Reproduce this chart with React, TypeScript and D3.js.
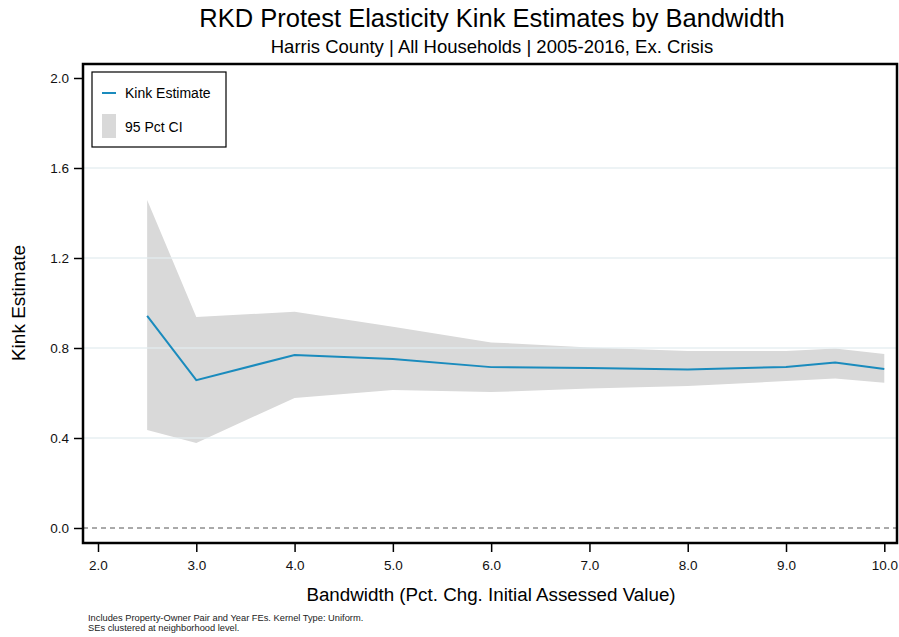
import React, { useEffect, useRef } from "react";
import * as d3 from "d3";

// bandwidths and the estimates
const bandwidths = [2.5, 3, 4, 5, 6, 7, 8, 9, 9.5, 10];
const kinkEstimate = [0.943, 0.657, 0.769, 0.751, 0.715, 0.711, 0.704, 0.716, 0.735, 0.707];
const ciUpper = [1.458, 0.938, 0.961, 0.895, 0.825, 0.802, 0.787, 0.787, 0.798, 0.773];
const ciLower = [0.436, 0.378, 0.578, 0.613, 0.604, 0.620, 0.631, 0.653, 0.664, 0.646];
const xTicks = [2, 3, 4, 5, 6, 7, 8, 9, 10];
const yTicks = [0, 0.4, 0.8, 1.2, 1.6, 2.0];
const gridTicks = [0.4, 0.8, 1.2, 1.6];

export default function App() {
  const ref = useRef<SVGSVGElement>(null);

  useEffect(() => {
    const svg = d3.select(ref.current);
    svg.selectAll("*").remove();
    const font = "'Liberation Sans', Arial, sans-serif";

    const frame = { left: 83, top: 64, right: 897, bottom: 543 };
    const x = d3.scaleLinear().domain([2, 10]).range([98, 884.3]);
    const y = d3.scaleLinear().domain([0, 2]).range([528, 78]);

    const rows = bandwidths.map((b, i) => ({
      b, est: kinkEstimate[i], lo: ciLower[i], hi: ciUpper[i]
    }));

    svg.append("rect")
      .attr("width", 899).attr("height", 637).attr("fill", "#fff");

    // confidence band
    svg.append("path")
      .datum(rows)
      .attr("fill", "#d9d9d9")
      .attr("d", d3.area<any>()
        .x(d => x(d.b))
        .y0(d => y(d.lo))
        .y1(d => y(d.hi)));

    // grid on top of the band
    svg.append("g").selectAll("line")
      .data(gridTicks)
      .enter().append("line")
        .attr("x1", frame.left).attr("x2", frame.right)
        .attr("y1", d => y(d)).attr("y2", d => y(d))
        .attr("stroke", "#e3ecef")
        .attr("stroke-opacity", 0.85)
        .attr("stroke-width", 1.5);

    // zero reference
    svg.append("line")
      .attr("x1", frame.left).attr("x2", frame.right)
      .attr("y1", y(0)).attr("y2", y(0))
      .attr("stroke", "#555")
      .attr("stroke-width", 1)
      .attr("stroke-dasharray", "5,4");

    svg.append("path")
      .datum(rows)
      .attr("fill", "none")
      .attr("stroke", "#1a8bbd")
      .attr("stroke-width", 2)
      .attr("d", d3.line<any>().x(d => x(d.b)).y(d => y(d.est)));

    // plot frame
    svg.append("rect")
      .attr("x", frame.left).attr("y", frame.top)
      .attr("width", frame.right - frame.left)
      .attr("height", frame.bottom - frame.top)
      .attr("fill", "none")
      .attr("stroke", "#000")
      .attr("stroke-width", 2.5);

    const yAxis = svg.append("g")
      .attr("transform", "translate(" + (frame.left - 1) + ",0)")
      .call(d3.axisLeft(y).tickValues(yTicks).tickFormat(d3.format(".1f")).tickSize(8).tickPadding(5));
    yAxis.select(".domain").remove();
    yAxis.selectAll("text").attr("font-family", font).attr("font-size", 13.5).attr("fill", "#111");
    yAxis.selectAll("line").attr("stroke-width", 1.5);

    const xAxis = svg.append("g")
      .attr("transform", "translate(0," + (frame.bottom + 1) + ")")
      .call(d3.axisBottom(x).tickValues(xTicks).tickFormat(d3.format(".1f")).tickSize(8).tickPadding(8));
    xAxis.select(".domain").remove();
    xAxis.selectAll("text").attr("font-family", font).attr("font-size", 13.5).attr("fill", "#111");
    xAxis.selectAll("line").attr("stroke-width", 1.5);

    // titles
    svg.append("text")
      .attr("x", 492).attr("y", 27)
      .attr("text-anchor", "middle")
      .attr("font-family", font).attr("font-size", 25.5)
      .text("RKD Protest Elasticity Kink Estimates by Bandwidth");
    svg.append("text")
      .attr("x", 492).attr("y", 53)
      .attr("text-anchor", "middle")
      .attr("font-family", font).attr("font-size", 18.5)
      .text("Harris County | All Households | 2005-2016, Ex. Crisis");

    svg.append("text")
      .attr("x", 491).attr("y", 601)
      .attr("text-anchor", "middle")
      .attr("font-family", font).attr("font-size", 18.8)
      .text("Bandwidth (Pct. Chg. Initial Assessed Value)");
    svg.append("text")
      .attr("transform", "translate(25,303) rotate(-90)")
      .attr("text-anchor", "middle")
      .attr("font-family", font).attr("font-size", 19)
      .text("Kink Estimate");

    svg.append("text")
      .attr("x", 88).attr("y", 621)
      .attr("font-family", font).attr("font-size", 9.3).attr("fill", "#222")
      .text("Includes Property-Owner Pair and Year FEs. Kernel Type: Uniform.");
    svg.append("text")
      .attr("x", 88).attr("y", 631)
      .attr("font-family", font).attr("font-size", 9.3).attr("fill", "#222")
      .text("SEs clustered at neighborhood level.");

    // legend
    const legend = svg.append("g").attr("transform", "translate(92,72)");
    legend.append("rect")
      .attr("width", 134).attr("height", 75)
      .attr("fill", "#fff").attr("stroke", "#000").attr("stroke-width", 1.2);
    legend.append("line")
      .attr("x1", 10).attr("x2", 24).attr("y1", 21).attr("y2", 21)
      .attr("stroke", "#1a8bbd").attr("stroke-width", 2);
    legend.append("rect")
      .attr("x", 10).attr("y", 42).attr("width", 14).attr("height", 24)
      .attr("fill", "#d9d9d9");
    legend.append("text")
      .attr("x", 33).attr("y", 26)
      .attr("font-family", font).attr("font-size", 14)
      .text("Kink Estimate");
    legend.append("text")
      .attr("x", 33).attr("y", 60)
      .attr("font-family", font).attr("font-size", 14)
      .text("95 Pct CI");
  }, []);

  return (
    <svg ref={ref} width={899} height={637}
      style={{ position: "absolute", left: 0, top: 0, display: "block" }} />
  );
}
